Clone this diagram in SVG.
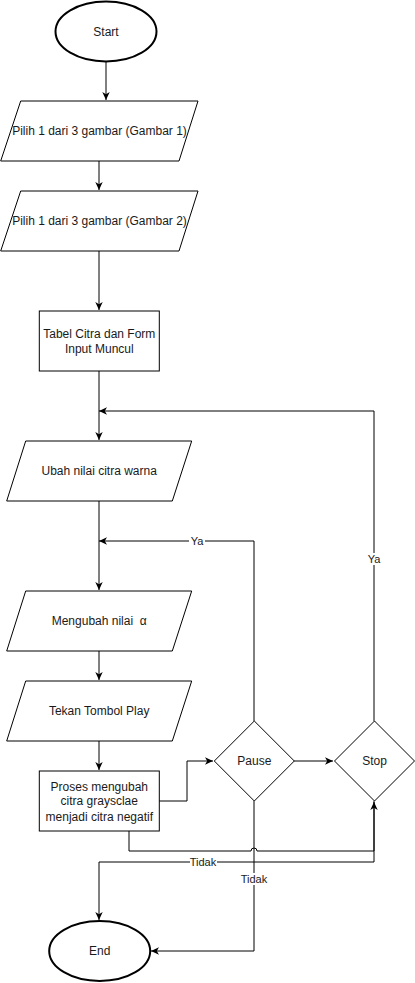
<svg xmlns="http://www.w3.org/2000/svg" width="415" height="983" viewBox="0 0 415 983">
<defs>
<marker id="arr" markerUnits="userSpaceOnUse" markerWidth="9" markerHeight="9" refX="8" refY="4.5" orient="auto">
<path d="M0,0.8 L8,4.5 L0,8.2 L2.2,4.5 z" fill="#000"/>
</marker>
</defs>
<style>
.shape{fill:#fff;stroke:#000;stroke-width:1}
.term{fill:#fff;stroke:#000;stroke-width:2}
.edge{fill:none;stroke:#000;stroke-width:1}
.t{font-family:"Liberation Sans",Arial,sans-serif;font-size:12px;fill:#1a1a1a;text-anchor:middle}
.lbl{font-family:"Liberation Sans",Arial,sans-serif;font-size:11px;fill:#1a1a1a;text-anchor:middle}
.lblbg{fill:#fff}
</style>
<rect width="415" height="983" fill="#fff"/>
<g id="connectors">
<path class="edge" d="M106,62 V100" marker-end="url(#arr)"/>
<path class="edge" d="M99,161 V190" marker-end="url(#arr)"/>
<path class="edge" d="M99,251 V310" marker-end="url(#arr)"/>
<path class="edge" d="M99,371 V440" marker-end="url(#arr)"/>
<path class="edge" d="M374,721 V411 H99" marker-end="url(#arr)"/>
<path class="edge" d="M99,501 V590" marker-end="url(#arr)"/>
<path class="edge" d="M254,721 V541 H99" marker-end="url(#arr)"/>
<path class="edge" d="M99,651 V680" marker-end="url(#arr)"/>
<path class="edge" d="M99,741 V770" marker-end="url(#arr)"/>
<path class="edge" d="M159,801 H187 V761 H213" marker-end="url(#arr)"/>
<path class="edge" d="M294,761 H333" marker-end="url(#arr)"/>
<path class="edge" d="M129,831 V851 H251 A3,3 0 0 1 257,851 H374 V802" marker-end="url(#arr)"/>
<path class="edge" d="M374,801 V862 H99 V920" marker-end="url(#arr)"/>
<path class="edge" d="M254,801 V951 H151" marker-end="url(#arr)"/>
<rect class="lblbg" x="189" y="535" width="16" height="12"/>
<text class="lbl" x="197" y="545">Ya</text>
<rect class="lblbg" x="366" y="553" width="16" height="12"/>
<text class="lbl" x="374" y="563">Ya</text>
<rect class="lblbg" x="190" y="856" width="27" height="12"/>
<text class="lbl" x="203" y="866">Tidak</text>
<rect class="lblbg" x="241" y="873" width="27" height="12"/>
<text class="lbl" x="254" y="883">Tidak</text>
</g>
<g id="start">
<ellipse class="term" cx="106" cy="31.5" rx="50.5" ry="30"/>
<text class="t" x="106" y="35.5">Start</text>
</g>
<g id="pilih1">
<path class="shape" d="M20.7,101 H198 L179,161 H0.7 Z"/>
<text class="t" x="99.5" y="135">Pilih 1 dari 3 gambar (Gambar 1)</text>
</g>
<g id="pilih2">
<path class="shape" d="M20.7,191 H198 L179,251 H0.7 Z"/>
<text class="t" x="99.5" y="225">Pilih 1 dari 3 gambar (Gambar 2)</text>
</g>
<g id="tabel">
<rect class="shape" x="39.3" y="311" width="120" height="60"/>
<text class="t" x="99.3" y="338">Tabel Citra dan Form</text>
<text class="t" x="99.3" y="353">Input Muncul</text>
</g>
<g id="ubah">
<path class="shape" d="M25.7,441 H191.7 L172.3,501 H6.7 Z"/>
<text class="t" x="99.2" y="475">Ubah nilai citra warna</text>
</g>
<g id="mengubah">
<path class="shape" d="M25.7,591 H191.7 L172.3,651 H6.7 Z"/>
<text class="t" x="99.2" y="625" xml:space="preserve">Mengubah nilai  α</text>
</g>
<g id="tekan">
<path class="shape" d="M25.7,681 H191.7 L172.3,741 H6.7 Z"/>
<text class="t" x="99.2" y="715">Tekan Tombol Play</text>
</g>
<g id="proses">
<rect class="shape" x="39.3" y="771" width="120" height="60"/>
<text class="t" x="99.3" y="791">Proses mengubah</text>
<text class="t" x="99.3" y="805">citra graysclae</text>
<text class="t" x="99.3" y="821">menjadi citra negatif</text>
</g>
<g id="pause">
<path class="shape" d="M254.3,721 L294.3,761 L254.3,801 L214.3,761 Z"/>
<text class="t" x="254.3" y="765">Pause</text>
</g>
<g id="stop">
<path class="shape" d="M374.5,721 L414.5,761 L374.5,801 L334.5,761 Z"/>
<text class="t" x="374.5" y="765">Stop</text>
</g>
<g id="end">
<ellipse class="term" cx="99.7" cy="951" rx="50.5" ry="30"/>
<text class="t" x="99.7" y="955">End</text>
</g>
</svg>
